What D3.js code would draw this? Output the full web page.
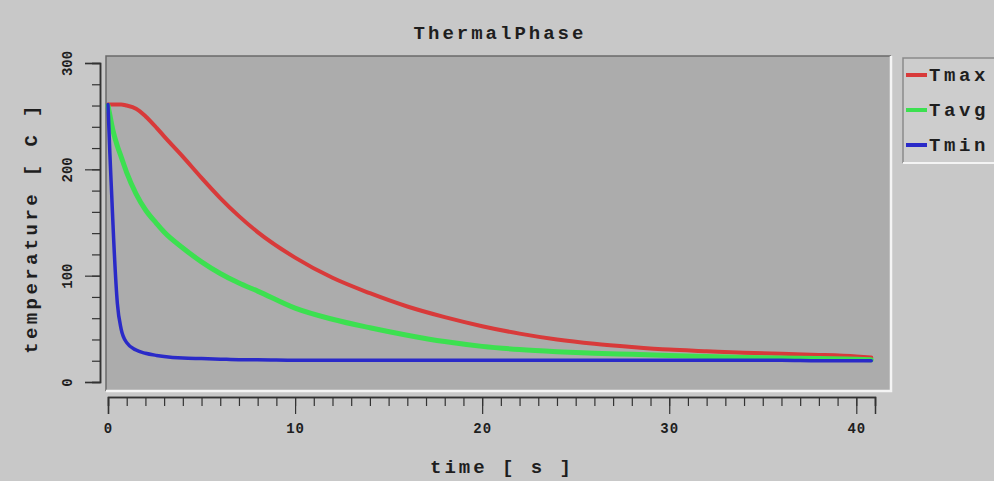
<!DOCTYPE html>
<html>
<head>
<meta charset="utf-8">
<script src="https://cdn.jsdelivr.net/npm/d3@7"></script>
<style>
  html, body { margin: 0; padding: 0; background: #c8c8c8; }
  svg { display: block; }
  text { font-family: "Liberation Mono", "DejaVu Sans Mono", monospace; font-weight: bold; fill: #1e1e1e; }
</style>
</head>
<body>
<svg id="chart" width="994" height="481"></svg>
<script>
// Thermal phase cooling curves
const timeSeconds = [0, 0.1, 0.2, 0.3, 0.5, 0.7, 1, 1.5, 2, 2.6, 3, 4, 5, 6, 7, 8, 10, 12, 14, 16, 18, 20, 22, 24, 26, 28, 30, 32, 34, 36, 38, 40, 40.8];
const tmaxValues = [261, 261, 261, 261, 261, 261, 260, 257, 250, 239, 231, 212, 192, 173, 156, 141, 117, 98, 83.5, 71, 61, 52.5, 45.5, 40, 36, 33, 30.5, 29, 27.5, 26.5, 25.5, 24, 23];
const tavgValues = [260, 251, 242, 234, 222, 212, 197, 177, 162, 149, 141, 126, 113, 102, 93, 85.5, 69.5, 59, 51, 44, 38, 33.5, 30.5, 28.5, 27, 26, 25, 24, 23, 22.5, 22, 21.5, 21];
const tminValues = [261, 215, 175, 135, 74, 50, 37, 30, 27, 25, 24, 22.5, 22, 21.5, 21, 21, 20.5, 20.5, 20.5, 20.5, 20.5, 20.5, 20.5, 20.5, 20.5, 20.5, 20.5, 20.5, 20.5, 20.5, 20, 20, 20];

const seriesNames = ["Tmax", "Tavg", "Tmin"];
const seriesColors = ["#d83a3a", "#3ce050", "#2a2ac8"];
const seriesWidths = [4, 5, 3.5];
const seriesValues = [tmaxValues, tavgValues, tminValues];

const xMajorTicks = [0, 10, 20, 30, 40];
const yMajorTicks = [0, 100, 200, 300];

const svg = d3.select("#chart");

// background
svg.append("rect").attr("width", 994).attr("height", 481).attr("fill", "#c8c8c8");

// scales
const x = d3.scaleLinear().domain([0, 41]).range([108, 875]);
const y = d3.scaleLinear().domain([0, 300]).range([382, 63]);

// plot panel with sunken bevel
const panel = { x0: 106, y0: 56, x1: 891, y1: 391 };
svg.append("rect")
  .attr("x", panel.x0).attr("y", panel.y0)
  .attr("width", panel.x1 - panel.x0).attr("height", panel.y1 - panel.y0)
  .attr("fill", "#acacac");
svg.append("path")
  .attr("d", `M${panel.x0},${panel.y1}V${panel.y0}H${panel.x1}`)
  .attr("fill", "none").attr("stroke", "#6a6a6a").attr("stroke-width", 1.5);
svg.append("path")
  .attr("d", `M${panel.x0},${panel.y1}H${panel.x1}V${panel.y0}`)
  .attr("fill", "none").attr("stroke", "#f4f4f4").attr("stroke-width", 2.5);

// lines
const line = d3.line().curve(d3.curveMonotoneX);
seriesValues.forEach((vals, i) => {
  svg.append("path")
    .datum(timeSeconds.map((t, k) => [x(t), y(vals[k])]))
    .attr("d", line)
    .attr("fill", "none")
    .attr("stroke", seriesColors[i])
    .attr("stroke-width", seriesWidths[i])
    .attr("stroke-linejoin", "round")
    .attr("stroke-linecap", "round");
});

// x axis: major ticks every 10, minor every 1
const xAxisY = 397;
const xMinor = d3.axisBottom(x).tickValues(d3.range(0, 42, 1)).tickSize(9).tickFormat("");
const xMajor = d3.axisBottom(x).tickValues(xMajorTicks).tickSize(17).tickFormat(d3.format("d"));
const gxm = svg.append("g").attr("transform", `translate(0,${xAxisY})`).call(xMinor);
const gx = svg.append("g").attr("transform", `translate(0,${xAxisY})`).call(xMajor);
[gxm, gx].forEach(g => {
  g.select(".domain").attr("stroke", "#333").attr("stroke-width", 1.5);
  g.selectAll(".tick line").attr("stroke", "#333").attr("stroke-width", 1.2);
});
gx.selectAll(".tick text")
  .style("font-family", "'Liberation Mono', monospace")
  .style("font-weight", "bold")
  .attr("font-size", 14)
  .attr("letter-spacing", 1)
  .attr("fill", "#1e1e1e")
  .attr("y", 26);

// y axis: major ticks every 100, minor every 20
const yAxisX = 100;
const yMinor = d3.axisLeft(y).tickValues(d3.range(0, 301, 20)).tickSize(8).tickFormat("");
const yMajor = d3.axisLeft(y).tickValues(yMajorTicks).tickSize(15).tickFormat(d3.format("d"));
const gym = svg.append("g").attr("transform", `translate(${yAxisX},0)`).call(yMinor);
const gy = svg.append("g").attr("transform", `translate(${yAxisX},0)`).call(yMajor);
[gym, gy].forEach(g => {
  g.select(".domain").attr("stroke", "#333").attr("stroke-width", 1.5);
  g.selectAll(".tick line").attr("stroke", "#333").attr("stroke-width", 1.2);
});
gy.selectAll(".tick text")
  .style("font-family", "'Liberation Mono', monospace")
  .style("font-weight", "bold")
  .attr("font-size", 14)
  .attr("fill", "#1e1e1e")
  .attr("x", 0).attr("dy", 0)
  .attr("text-anchor", "middle")
  .attr("transform", "translate(-32,0) rotate(-90)")
  .attr("dominant-baseline", "middle");

// titles
svg.append("text")
  .attr("x", 500).attr("y", 39)
  .attr("text-anchor", "middle")
  .attr("font-size", 19)
  .attr("letter-spacing", 3)
  .text("ThermalPhase");

svg.append("text")
  .attr("x", 502).attr("y", 473)
  .attr("text-anchor", "middle")
  .attr("font-size", 19)
  .attr("letter-spacing", 3)
  .text("time [ s ]");

svg.append("text")
  .attr("transform", "translate(37,228) rotate(-90)")
  .attr("text-anchor", "middle")
  .attr("font-size", 19)
  .attr("letter-spacing", 3.4)
  .text("temperature [ C ]");

// legend
const legend = svg.append("g");
legend.append("rect")
  .attr("x", 903).attr("y", 58).attr("width", 100).attr("height", 105)
  .attr("fill", "#cdcdcd");
legend.append("path")
  .attr("d", "M903,163V58H994")
  .attr("fill", "none").attr("stroke", "#8a8a8a").attr("stroke-width", 1.5);
legend.append("path")
  .attr("d", "M903,163H994")
  .attr("fill", "none").attr("stroke", "#f4f4f4").attr("stroke-width", 2);

seriesNames.forEach((name, i) => {
  const cy = 75 + i * 35;
  legend.append("line")
    .attr("x1", 906).attr("x2", 927).attr("y1", cy).attr("y2", cy)
    .attr("stroke", seriesColors[i]).attr("stroke-width", 4);
  legend.append("text")
    .attr("x", 929).attr("y", cy + 6)
    .attr("font-size", 19)
    .attr("letter-spacing", 3.6)
    .text(name);
});
</script>
</body>
</html>
